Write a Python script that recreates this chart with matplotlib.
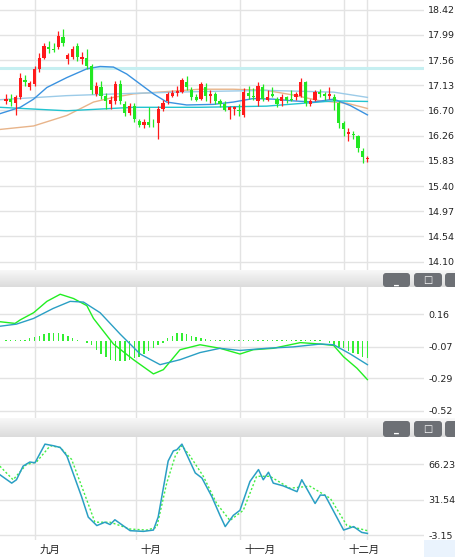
import numpy as np
import matplotlib.pyplot as plt
from matplotlib.patches import FancyBboxPatch, Rectangle

W, H = 455, 557

# ---- candle data (open, close, high, low) ----
opens = [16.85, 16.90, 16.82, 16.92, 17.22, 17.10, 17.15, 17.40, 17.60, 17.78,
         17.75, 17.78, 17.95, 17.57, 17.62, 17.80, 17.58, 17.60, 17.45, 16.98,
         17.10, 16.95, 16.80, 16.85, 17.15, 16.80, 16.65, 16.78, 16.52, 16.45,
         16.50, 16.45, 16.48, 16.72, 16.85, 16.95, 17.00, 17.02, 17.18, 17.05,
         16.92, 16.90, 17.10, 16.95, 16.98, 16.85, 16.80, 16.70, 16.72, 16.70,
         16.62, 17.00, 16.95, 16.85, 17.10, 16.88, 16.98, 16.90, 16.85, 16.92,
         16.90, 16.92, 16.95, 17.18, 16.80, 16.88, 17.02, 16.98, 16.95, 16.92,
         16.82, 16.48, 16.30, 16.30, 16.25, 16.00, 15.86]
closes = [16.90, 16.84, 16.92, 17.25, 17.18, 17.16, 17.40, 17.60, 17.80, 17.75,
          17.73, 17.98, 17.85, 17.65, 17.75, 17.62, 17.62, 17.45, 17.05, 17.12,
          16.95, 16.85, 16.88, 17.15, 16.85, 16.65, 16.78, 16.55, 16.45, 16.50,
          16.45, 16.44, 16.72, 16.82, 16.98, 17.00, 17.03, 17.22, 17.10, 16.92,
          16.88, 17.15, 16.95, 16.98, 16.85, 16.80, 16.70, 16.75, 16.76, 16.68,
          17.02, 16.95, 16.92, 17.12, 16.90, 16.92, 16.95, 16.80, 16.92, 16.88,
          16.88, 16.98, 17.18, 16.82, 16.85, 17.02, 16.98, 16.95, 16.98, 16.85,
          16.48, 16.38, 16.32, 16.28, 16.05, 15.90, 15.88]
highs = [16.97, 16.97, 16.96, 17.33, 17.30, 17.20, 17.45, 17.68, 17.85, 17.88,
         17.86, 18.06, 18.10, 17.68, 17.80, 17.85, 17.70, 17.75, 17.50, 17.18,
         17.20, 17.00, 16.95, 17.20, 17.22, 16.85, 16.82, 16.82, 16.55, 16.55,
         16.75, 16.55, 16.78, 16.88, 17.02, 17.05, 17.12, 17.25, 17.28, 17.10,
         16.98, 17.18, 17.16, 17.05, 17.02, 16.90, 16.85, 16.78, 16.78, 16.80,
         17.08, 17.12, 17.08, 17.18, 17.15, 17.05, 17.10, 16.92, 16.98, 16.95,
         17.05, 17.02, 17.25, 17.20, 16.90, 17.05, 17.06, 17.02, 17.10, 16.98,
         16.85, 16.52, 16.40, 16.35, 16.28, 16.05, 15.92]
lows = [16.80, 16.78, 16.62, 16.90, 17.12, 17.05, 17.12, 17.35, 17.58, 17.68,
        17.70, 17.75, 17.80, 17.50, 17.58, 17.55, 17.50, 17.40, 16.98, 16.95,
        16.90, 16.72, 16.72, 16.80, 16.80, 16.60, 16.62, 16.50, 16.42, 16.40,
        16.42, 16.42, 16.20, 16.68, 16.80, 16.92, 16.95, 17.00, 17.05, 16.88,
        16.85, 16.88, 16.85, 16.82, 16.80, 16.75, 16.68, 16.55, 16.62, 16.60,
        16.58, 16.90, 16.88, 16.78, 16.85, 16.85, 16.92, 16.75, 16.78, 16.82,
        16.85, 16.88, 16.92, 16.78, 16.78, 16.85, 16.92, 16.88, 16.90, 16.70,
        16.40, 16.25, 16.18, 16.20, 15.98, 15.80, 15.82]

# ---- moving averages (bar index, value) ----
ma_a_x = [-1.3, 3.0, 5.8, 8.6, 12.8, 17.0, 19.8, 22.6, 25.4, 28.2, 31.0, 33.8,
          38.0, 43.6, 47.8, 52.0, 56.2, 60.4, 64.7, 68.9, 72.4, 76.0]
ma_a_y = [16.64, 16.75, 16.89, 17.09, 17.26, 17.41, 17.45, 17.44, 17.32, 17.15,
          16.98, 16.84, 16.79, 16.80, 16.84, 16.90, 16.89, 16.86, 16.84, 16.89,
          16.78, 16.62]
ma_b_x = [-1.3, 12.8, 26.8, 40.8, 54.8, 68.9, 76.0]
ma_b_y = [16.88, 16.95, 16.99, 17.02, 17.04, 17.01, 16.92]
ma_c_x = [-1.3, 12.8, 26.8, 40.8, 54.8, 68.9, 76.0]
ma_c_y = [16.75, 16.69, 16.75, 16.75, 16.77, 16.86, 16.85]
ma_d_x = [-1.3, 5.8, 12.8, 18.4, 22.6, 26.8, 33.8, 40.8, 47.8, 54.8, 60.4, 66.1, 71.7, 76.0]
ma_d_y = [16.37, 16.43, 16.61, 16.84, 16.92, 16.98, 17.02, 17.06, 17.06, 17.04,
          16.96, 16.86, 16.82, 16.73]
level_line = 17.42

# ---- MACD ----
dif_x = [-1.3, 1.9, 3.0, 5.8, 8.6, 11.4, 14.2, 17.0, 18.4, 22.6, 26.8, 31.0,
         33.1, 36.6, 40.8, 45.0, 49.2, 52.0, 56.2, 61.9, 66.1, 68.9, 71.0, 73.8, 76.0]
dif_y = [0.107, 0.095, 0.12, 0.17, 0.25, 0.30, 0.27, 0.22, 0.13, -0.05, -0.16,
         -0.26, -0.23, -0.09, -0.055, -0.08, -0.12, -0.09, -0.08, -0.04, -0.05,
         -0.06, -0.14, -0.22, -0.30]
dea_x = [-1.3, 2.2, 5.8, 9.9, 13.5, 16.3, 19.8, 24.0, 28.2, 32.4, 36.6, 40.8,
         45.0, 49.2, 54.8, 60.4, 66.1, 68.9, 72.4, 76.0]
dea_y = [0.075, 0.09, 0.13, 0.20, 0.25, 0.245, 0.17, 0.02, -0.12, -0.195, -0.16,
         -0.11, -0.08, -0.095, -0.08, -0.07, -0.05, -0.055, -0.12, -0.195]
macd_hist = [1, 1, 0.5, 0.5, 1, 2, 3, 4, 5, 6,
             6, 6, 5, 4, 2, 1, 0, -1, -3, -6,
             -9, -11, -13, -14, -14, -14, -13, -12, -11, -9,
             -7, -5, -3, -1, 2, 4, 6, 6, 5, 4,
             3, 2, 1.5, 1, 0.5, 0.5, 0.5, 0.5, 0.5, 1,
             1, 1, 1, 1, 1, 1, 0.5, 0.5, 0.5, 0.5,
             1, 1, 0.5, 0.5, 0.5, 0.5, 0.5, 0, -1, -3,
             -4, -5, -7, -8, -9, -11, -12]
hist_base = -0.03

# ---- KD ----
k_x = [-1.3, 1.2, 2.2, 3.6, 5.0, 6.1, 8.2, 10.0, 11.4, 12.8, 15.9, 17.3, 19.1,
       20.8, 21.9, 22.9, 26.1, 28.9, 31.0, 32.0, 34.1, 35.2, 35.9, 37.0, 39.8,
       41.2, 43.3, 45.0, 46.1, 47.8, 49.2, 51.3, 53.1, 54.1, 55.2, 56.2, 58.3,
       61.2, 62.2, 65.0, 66.1, 67.1, 71.0, 73.1, 74.8, 76.0]
k_y = [56.2, 47.9, 51.2, 64.6, 68.6, 67.9, 86.2, 84.6, 82.9, 74.6, 34.5, 14.5,
       6.2, 9.5, 7.2, 11.9, 1.2, 0.5, 1.8, 14.5, 69.6, 79.6, 80.6, 86.2, 57.9,
       52.9, 34.5, 16.2, 5.2, 16.2, 21.2, 49.5, 61.2, 51.2, 58.6, 47.9, 45.2,
       39.5, 51.2, 27.9, 36.2, 35.9, 1.8, 5.2, -0.5, -1.5]
d_x = [-1.3, 1.5, 4.3, 6.4, 9.3, 11.4, 13.8, 17.0, 18.7, 21.9, 26.1, 29.6, 31.7,
       33.8, 35.6, 37.0, 38.7, 41.5, 44.3, 47.1, 49.9, 52.7, 55.5, 59.7, 63.9,
       68.2, 71.7, 76.0]
d_y = [64.6, 51.2, 66.2, 68.6, 84.6, 82.9, 71.2, 31.2, 9.5, 9.5, 2.8, 1.8, 4.5,
       47.9, 74.6, 84.6, 74.6, 54.6, 27.9, 11.2, 21.2, 54.6, 54.6, 42.9, 44.9,
       32.9, 6.2, 1.2]

month_pos = [6.1, 27.3, 49.2, 71.1]
month_labels = ['九月', '十月', '十一月', '十二月']
main_ticks = [18.42, 17.99, 17.56, 17.13, 16.70, 16.26, 15.83, 15.40, 14.97, 14.54, 14.10]
macd_ticks = [0.16, -0.07, -0.29, -0.52]
kd_ticks = [66.23, 31.54, -3.15]

RED, GREEN = '#ff1a1a', '#22e822'
GRID = '#e3e3e3'
XLIM = (-1.26, 87.9)


def px_axes(fig, x0, y0, x1, y1):
    return fig.add_axes([x0 / W, 1 - y1 / H, (x1 - x0) / W, (y1 - y0) / H])


def style(ax, ticks, ylim, fmt):
    ax.set_xlim(*XLIM)
    ax.set_ylim(*ylim)
    ax.yaxis.tick_right()
    ax.set_yticks(ticks)
    ax.set_yticklabels([fmt.format(t) for t in ticks])
    ax.tick_params(axis='y', length=0, pad=3, labelsize=6.8, labelcolor='#222222')
    ax.set_xticks(month_pos + [76.0])
    ax.tick_params(axis='x', length=0, labelbottom=False)
    ax.grid(True, color=GRID, lw=1)
    ax.set_axisbelow(True)
    for s in ax.spines.values():
        s.set_visible(False)


fig = plt.figure(figsize=(W / 100, H / 100), dpi=100)

# main price panel
ax = px_axes(fig, 0, 0, 424, 270)
style(ax, main_ticks, (13.96, 18.59), '{:.2f}')
ax.axhline(level_line, color='#c6eff1', lw=2.2, zorder=1)
idx = np.arange(len(closes))
for i in idx:
    c = RED if closes[i] >= opens[i] else GREEN
    ax.vlines(i, lows[i], highs[i], color=c, lw=0.9, zorder=3)
    lo, hi = min(opens[i], closes[i]), max(opens[i], closes[i])
    ax.add_patch(Rectangle((i - 0.34, lo), 0.68, max(hi - lo, 0.012), color=c, zorder=3, lw=0))
ax.plot(ma_d_x, ma_d_y, color='#e8b48a', lw=1, zorder=2)
ax.plot(ma_b_x, ma_b_y, color='#9ccbe8', lw=1, zorder=2)
ax.plot(ma_c_x, ma_c_y, color='#22c4d0', lw=1, zorder=2)
ax.plot(ma_a_x, ma_a_y, color='#3a92e0', lw=1, zorder=2)

# MACD panel
ax2 = px_axes(fig, 0, 287, 424, 418)
style(ax2, macd_ticks, (-0.57, 0.351), '{:.2f}')
ax2.bar(idx, np.array(macd_hist) / 100, bottom=hist_base, width=0.3, color='#33ee33', zorder=2)
ax2.plot(dif_x, dif_y, color='#22ee22', lw=1, zorder=3)
ax2.plot(dea_x, dea_y, color='#2a9fc4', lw=1, zorder=3)

# KD panel
ax3 = px_axes(fig, 0, 437, 424, 540)
style(ax3, kd_ticks, (-7.97, 93.2), '{:.2f}')
ax3.plot(d_x, d_y, color='#44ee44', lw=1, ls=(0, (1.5, 1.5)), zorder=3)
ax3.plot(k_x, k_y, color='#2a9fc4', lw=1.1, zorder=3)
for p, lab in zip(month_pos, month_labels):
    ax3.text(p + 0.9, -0.045, lab, transform=ax3.get_xaxis_transform(), va='top', ha='left',
             fontsize=7.5, family=['Noto Sans CJK SC', 'DejaVu Sans'], color='#222222')

# panel header bars with window buttons
grad = np.linspace(0.97, 0.86, 20).reshape(-1, 1)
for y0, y1 in [(270, 287), (418, 437)]:
    hb = px_axes(fig, 0, y0, W, y1)
    hb.imshow(grad, aspect='auto', cmap='gray', vmin=0, vmax=1, extent=(0, W, y1, y0))
    hb.set_xlim(0, W)
    hb.set_ylim(y1, y0)
    hb.axis('off')
    for bx0, bx1, g in [(383, 410, '_'), (414, 442, '□'), (445, 460, '')]:
        hb.add_patch(FancyBboxPatch((bx0, y0 + 3), bx1 - bx0, y1 - y0 - 3,
                                    boxstyle='round,pad=0,rounding_size=3',
                                    fc='#6d7075', ec='none'))
        if g:
            hb.text((bx0 + bx1) / 2, y0 + (y1 - y0) / 2 + 2, g, color='white',
                    ha='center', va='center', fontsize=7, fontweight='bold')

# corner box under the axis labels
fig.patches.append(Rectangle((424 / W, 0), 31 / W, 17 / H, transform=fig.transFigure,
                             fc='#eaf3fd', ec='none'))

fig.savefig('out.png', dpi=100)
